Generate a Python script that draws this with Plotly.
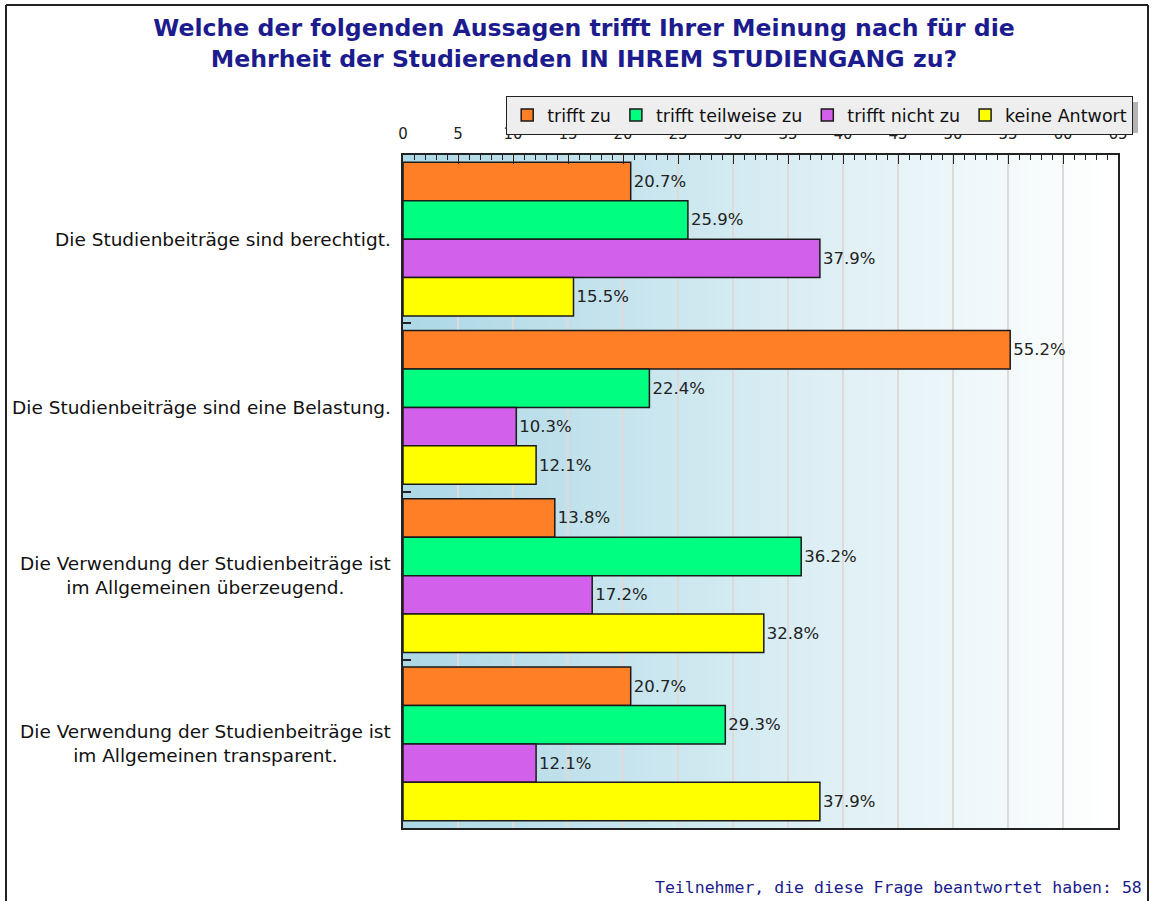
import plotly.graph_objects as go

# ---------------- data ----------------
categories = [
    "Die Studienbeiträge sind berechtigt.",
    "Die Studienbeiträge sind eine Belastung.",
    "Die Verwendung der Studienbeiträge ist<br>im Allgemeinen überzeugend.",
    "Die Verwendung der Studienbeiträge ist<br>im Allgemeinen transparent.",
]
series_names = ["trifft zu", "trifft teilweise zu", "trifft nicht zu", "keine Antwort"]
trifft_zu = [20.7, 55.2, 13.8, 20.7]
trifft_teilweise_zu = [25.9, 22.4, 36.2, 29.3]
trifft_nicht_zu = [37.9, 10.3, 17.2, 12.1]
keine_antwort = [15.5, 12.1, 32.8, 37.9]
series_values = [trifft_zu, trifft_teilweise_zu, trifft_nicht_zu, keine_antwort]
series_colors = ["#ff7f27", "#00ff80", "#d260ea", "#ffff00"]
x_tick_values = list(range(0, 70, 5))
x_tick_labels = [str(v) for v in x_tick_values]

title_text = ("Welche der folgenden Aussagen trifft Ihrer Meinung nach für die<br>"
              "Mehrheit der Studierenden IN IHREM STUDIENGANG zu?")
footer_text = "Teilnehmer, die diese Frage beantwortet haben: 58"

# ---------------- layout geometry (pixels) ----------------
W, H = 1152, 901
PL, PR, PT, PB = 403, 1118, 155, 828   # plot area


def px_x(p):
    return (p - PL) / (PR - PL)


def px_y(p):
    return (PB - p) / (PB - PT)


fig = go.Figure()
for name, vals, col in zip(series_names, series_values, series_colors):
    fig.add_trace(go.Bar(
        name=name, y=categories, x=vals, orientation="h",
        marker=dict(color=col, line=dict(color="#1a1a1a", width=1.5)),
        texttemplate="%{x:.1f}%", textposition="outside",
        textfont=dict(family="DejaVu Sans", size=16.5, color="#222222"),
        cliponaxis=False,
    ))

shapes = []
# background gradient lightblue -> white
n = 80
c0 = (173, 216, 230)
c1 = (255, 255, 255)
for i in range(n):
    t = i / (n - 1)
    col = tuple(round(c0[k] + (c1[k] - c0[k]) * t) for k in range(3))
    shapes.append(dict(type="rect", xref="x domain", yref="y domain",
                       x0=i / n, x1=(i + 1) / n + 0.002, y0=0, y1=1,
                       fillcolor="rgb(%d,%d,%d)" % col, line=dict(width=0),
                       layer="below"))
# legend shadow
shapes.append(dict(type="rect", xref="paper", yref="paper",
                   x0=px_x(512), x1=px_x(1138), y0=px_y(133), y1=px_y(102),
                   fillcolor="#b4b4b4", line=dict(width=0), layer="above"))
# outer frame (left, top, right)
for (xa, ya, xb, yb) in [(6, 5, 6, 905), (6, 5, 1148, 5), (1148, 5, 1148, 905)]:
    shapes.append(dict(type="line", xref="paper", yref="paper",
                       x0=px_x(xa), y0=px_y(ya), x1=px_x(xb), y1=px_y(yb),
                       line=dict(color="#222222", width=2)))

annotations = []
for cat in categories:
    annotations.append(dict(
        x=px_x(393), xref="paper", y=cat, yref="y", text=cat,
        xanchor="right", yanchor="middle", align="center", showarrow=False,
        font=dict(family="DejaVu Sans", size=18.5, color="#111111")))
annotations.append(dict(
    x=px_x(1144), xref="paper", y=px_y(888), yref="paper", text=footer_text,
    xanchor="right", yanchor="middle", showarrow=False,
    font=dict(family="DejaVu Sans Mono", size=16.5, color="#1a1a8c")))

fig.update_layout(
    width=W, height=H,
    margin=dict(l=PL, r=W - PR, t=PT, b=H - PB, pad=0),
    paper_bgcolor="white", plot_bgcolor="white",
    barmode="group", bargap=0.085, bargroupgap=0,
    title=dict(text=title_text, x=584 / W, xanchor="center", xref="container",
               y=1 - 36 / H, yanchor="top", yref="container",
               font=dict(family="DejaVu Sans", size=23.6, color="#1c1c8e", weight="bold")),
    showlegend=True,
    legend=dict(orientation="h", x=px_x(1133), xanchor="right", y=px_y(96), yanchor="top",
                bgcolor="#eeeeee", bordercolor="#222222", borderwidth=1.2,
                font=dict(family="DejaVu Sans", size=17.5, color="#111111"),
                itemclick=False, traceorder="normal"),
    xaxis=dict(side="top", range=[0, 65], tickvals=x_tick_values, ticktext=x_tick_labels,
               ticks="inside", ticklen=9, tickwidth=1.3, tickcolor="#222222",
               minor=dict(dtick=1, tick0=0, ticks="inside", ticklen=5, tickwidth=1,
                          tickcolor="#222222", showgrid=False),
               showgrid=True, gridcolor="#dedad8", gridwidth=1.5,
               showline=True, linecolor="#222222", linewidth=2, mirror=True,
               zeroline=False, ticklabelstandoff=8,
               tickfont=dict(family="DejaVu Sans", size=15, color="#222222")),
    yaxis=dict(autorange="reversed", showticklabels=False, ticks="inside",
               tickson="boundaries", ticklen=8, tickcolor="#222222", tickwidth=1.5,
               showgrid=False, showline=True, linecolor="#222222", linewidth=2,
               mirror=True, zeroline=False),
    shapes=shapes, annotations=annotations,
)

fig.write_html("out.html", config={"displayModeBar": False},
               post_script="document.body.style.margin='0';")
